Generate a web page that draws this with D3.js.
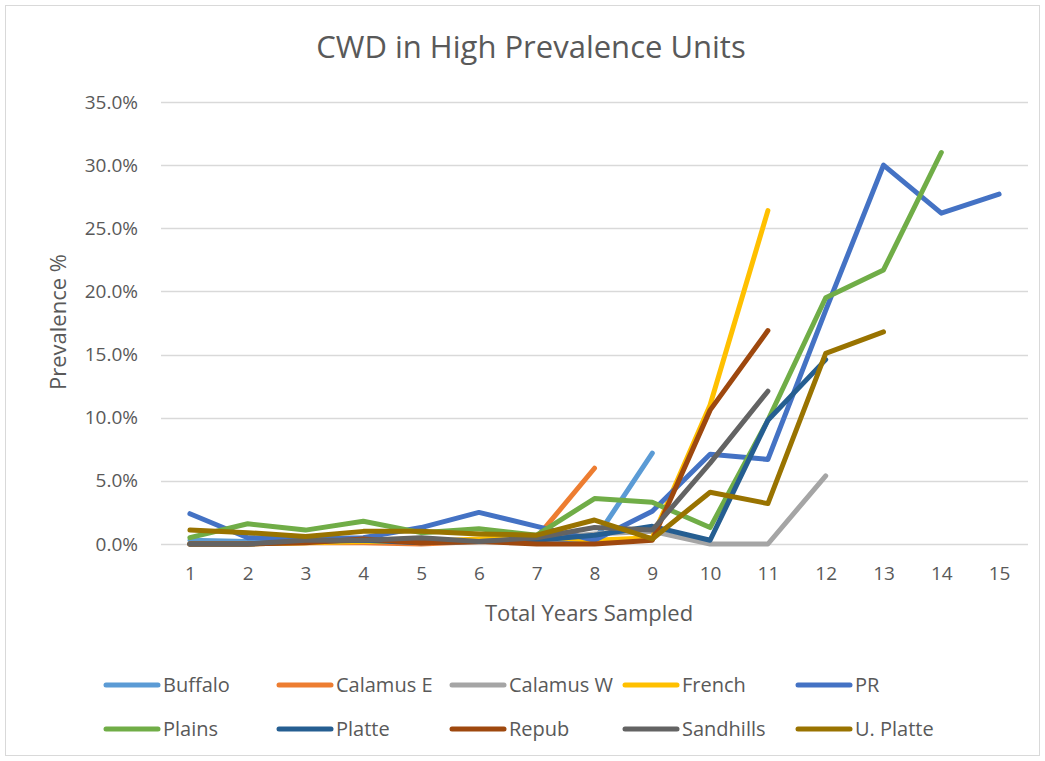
<!DOCTYPE html>
<html>
<head>
<meta charset="utf-8">
<script src="https://cdn.jsdelivr.net/npm/d3@7"></script>
<style>
  body { margin: 0; background: #fff; }
  text { font-family: "Open Sans", "Noto Sans", sans-serif; fill: #595959; }
</style>
</head>
<body>
<div id="chart"></div>
<script>
var years = [1, 2, 3, 4, 5, 6, 7, 8, 9, 10, 11, 12, 13, 14, 15];
var yTicks = [0, 0.05, 0.10, 0.15, 0.20, 0.25, 0.30, 0.35];

var seriesNames = ["Buffalo", "Calamus E", "Calamus W", "French", "PR",
  "Plains", "Platte", "Repub", "Sandhills", "U. Platte"];
var seriesColors = ["#5B9BD5", "#ED7D31", "#A5A5A5", "#FFC000", "#4472C4",
  "#70AD47", "#255E91", "#9E480E", "#636363", "#997300"];

// prevalence per year sampled (fractions)
var buffalo   = [0.003, 0.002, 0.003, 0.003, 0.002, 0.003, 0.004, 0.003, 0.072];
var calamusE  = [0.000, 0.000, 0.001, 0.001, 0.000, 0.002, 0.005, 0.060];
var calamusW  = [0.000, 0.000, 0.002, 0.002, 0.003, 0.002, 0.004, 0.008, 0.010, 0.000, 0.000, 0.054];
var french    = [0.000, 0.000, 0.001, 0.002, 0.002, 0.004, 0.006, 0.003, 0.005, 0.110, 0.264];
var pr        = [0.024, 0.005, 0.004, 0.005, 0.013, 0.025, 0.014, 0.003, 0.026, 0.071, 0.067, 0.185, 0.300, 0.262, 0.277];
var plains    = [0.005, 0.016, 0.011, 0.018, 0.009, 0.012, 0.007, 0.036, 0.033, 0.013, 0.098, 0.195, 0.217, 0.310];
var platte    = [0.000, 0.000, 0.002, 0.003, 0.001, 0.002, 0.003, 0.007, 0.014, 0.003, 0.098, 0.146];
var repub     = [0.000, 0.000, 0.001, 0.004, 0.001, 0.002, 0.000, 0.000, 0.003, 0.106, 0.169];
var sandhills = [0.000, 0.000, 0.003, 0.003, 0.005, 0.002, 0.005, 0.013, 0.011, 0.064, 0.121];
var uPlatte   = [0.011, 0.009, 0.006, 0.010, 0.010, 0.008, 0.007, 0.019, 0.004, 0.041, 0.032, 0.151, 0.168];

var allSeries = [buffalo, calamusE, calamusW, french, pr, plains, platte, repub, sandhills, uPlatte];

var W = 1045, H = 761;
var plot = { left: 161, right: 1028, top: 102, bottom: 544 };

var svg = d3.select("#chart").append("svg")
  .attr("width", W)
  .attr("height", H);

// chart border
svg.append("rect")
  .attr("x", 5.5).attr("y", 5.5)
  .attr("width", 1034).attr("height", 750)
  .attr("fill", "#fff")
  .attr("stroke", "#D9D9D9");

var x = d3.scalePoint()
  .domain(years)
  .range([plot.left, plot.right])
  .padding(0.5);

var y = d3.scaleLinear()
  .domain([0, 0.35])
  .range([plot.bottom, plot.top]);

// gridlines
svg.append("g")
  .selectAll("line")
  .data(yTicks)
  .enter()
  .append("line")
  .attr("x1", plot.left)
  .attr("x2", plot.right)
  .attr("y1", function(d) { return Math.round(y(d)) + 0.5; })
  .attr("y2", function(d) { return Math.round(y(d)) + 0.5; })
  .attr("stroke", "#D9D9D9")
  .attr("stroke-width", 1.3);

// y axis labels
var yAxis = svg.append("g")
  .attr("transform", "translate(" + plot.left + ",0)")
  .call(d3.axisLeft(y).tickValues(yTicks).tickFormat(d3.format(".1%")).tickSize(0).tickPadding(23));
yAxis.select(".domain").remove();
yAxis.selectAll("text")
  .style("font-size", "19px")
  .attr("fill", "#595959");

// x axis labels
var xAxis = svg.append("g")
  .attr("transform", "translate(0," + plot.bottom + ")")
  .call(d3.axisBottom(x).tickSize(0).tickPadding(23));
xAxis.select(".domain").remove();
xAxis.selectAll("text")
  .style("font-size", "19px")
  .attr("fill", "#595959");

// lines
var line = d3.line()
  .x(function(d, i) { return x(years[i]); })
  .y(function(d) { return y(d); });

svg.append("g")
  .selectAll("path")
  .data(allSeries)
  .enter()
  .append("path")
  .attr("fill", "none")
  .attr("stroke", function(d, i) { return seriesColors[i]; })
  .attr("stroke-width", 5)
  .attr("stroke-linejoin", "round")
  .attr("stroke-linecap", "round")
  .attr("d", line);

// titles
svg.append("text")
  .text("CWD in High Prevalence Units")
  .attr("x", 531)
  .attr("y", 58)
  .attr("text-anchor", "middle")
  .style("font-size", "31px");

svg.append("text")
  .text("Total Years Sampled")
  .attr("x", 589)
  .attr("y", 621)
  .attr("text-anchor", "middle")
  .style("font-size", "22px");

svg.append("text")
  .text("Prevalence %")
  .attr("transform", "translate(66,322) rotate(-90)")
  .attr("text-anchor", "middle")
  .style("font-size", "22px");

// legend
var legend = svg.selectAll(".legend")
  .data(seriesNames)
  .enter()
  .append("g")
  .attr("class", "legend")
  .attr("transform", function(d, i) {
    return "translate(" + (106 + (i % 5) * 173) + "," + (685 + Math.floor(i / 5) * 44) + ")";
  });

legend.append("line")
  .attr("x1", 0).attr("x2", 52)
  .attr("y1", 0).attr("y2", 0)
  .attr("stroke", function(d, i) { return seriesColors[i]; })
  .attr("stroke-width", 5)
  .attr("stroke-linecap", "round");

legend.append("text")
  .text(function(d) { return d; })
  .attr("x", 57)
  .attr("y", 7)
  .style("font-size", "20px");
</script>
</body>
</html>
